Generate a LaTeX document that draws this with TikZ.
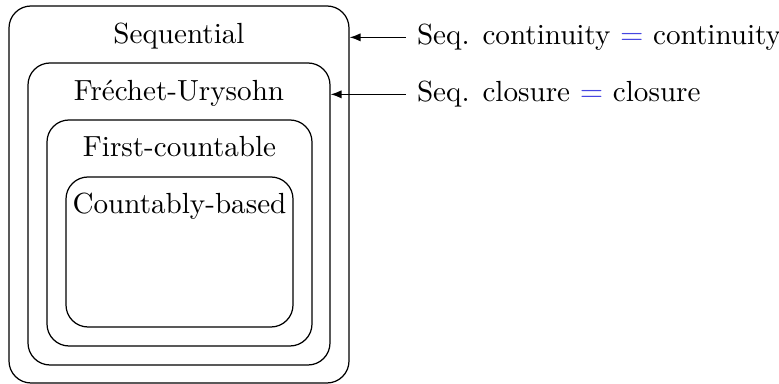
\documentclass[tikz,border=0pt]{standalone}
\usetikzlibrary{arrows.meta}
\newdimen\pxu \pxu=0.364pt
\definecolor{eqblue}{RGB}{70,70,225}
\begin{document}
\begin{tikzpicture}[x=0.364pt,y=-0.364pt,
  font=\fontsize{10.6pt}{13pt}\selectfont,
  boxs/.style={draw,rounded corners=8pt,line width=0.45pt,inner sep=0pt},
  lbl/.style={anchor=base,inner sep=0pt},
  side/.style={anchor=base west,inner sep=0pt},
  arr/.style={-{Latex[length=4pt,width=3pt]},line width=0.45pt}]
\useasboundingbox (0,0) rectangle (779,384);
\node[boxs,minimum width=340\pxu,minimum height=377\pxu] (seq) at (179,194.5) {};
\node[boxs,minimum width=302\pxu,minimum height=302\pxu] (fu) at (179,214) {};
\node[boxs,minimum width=265\pxu,minimum height=226\pxu] (fc) at (179.5,233) {};
\node[boxs,minimum width=227\pxu,minimum height=150\pxu] (cb) at (179.5,252) {};
\node[lbl] (tseq) at (179,44) {Sequential};
\node[lbl] (tfu) at (179,101) {Fr\'echet-Urysohn};
\node[lbl] (tfc) at (179.5,157) {First-countable};
\node[lbl] (tcb) at (179.5,214) {Countably-based};
\node[side] (l1) at (416.5,44.5) {Seq. continuity $\color{eqblue}=$ continuity};
\node[side] (l2) at (416.5,101.5) {Seq. closure $\color{eqblue}=$ closure};
\coordinate (a1) at ([xshift=-10.5\pxu,yshift=2.6pt]l1.base west);
\coordinate (a2) at ([xshift=-10.5\pxu,yshift=2.6pt]l2.base west);
\draw[arr] (a1) -- (a1 -| seq.east);
\draw[arr] (a2) -- (a2 -| fu.east);
\end{tikzpicture}
\end{document}
